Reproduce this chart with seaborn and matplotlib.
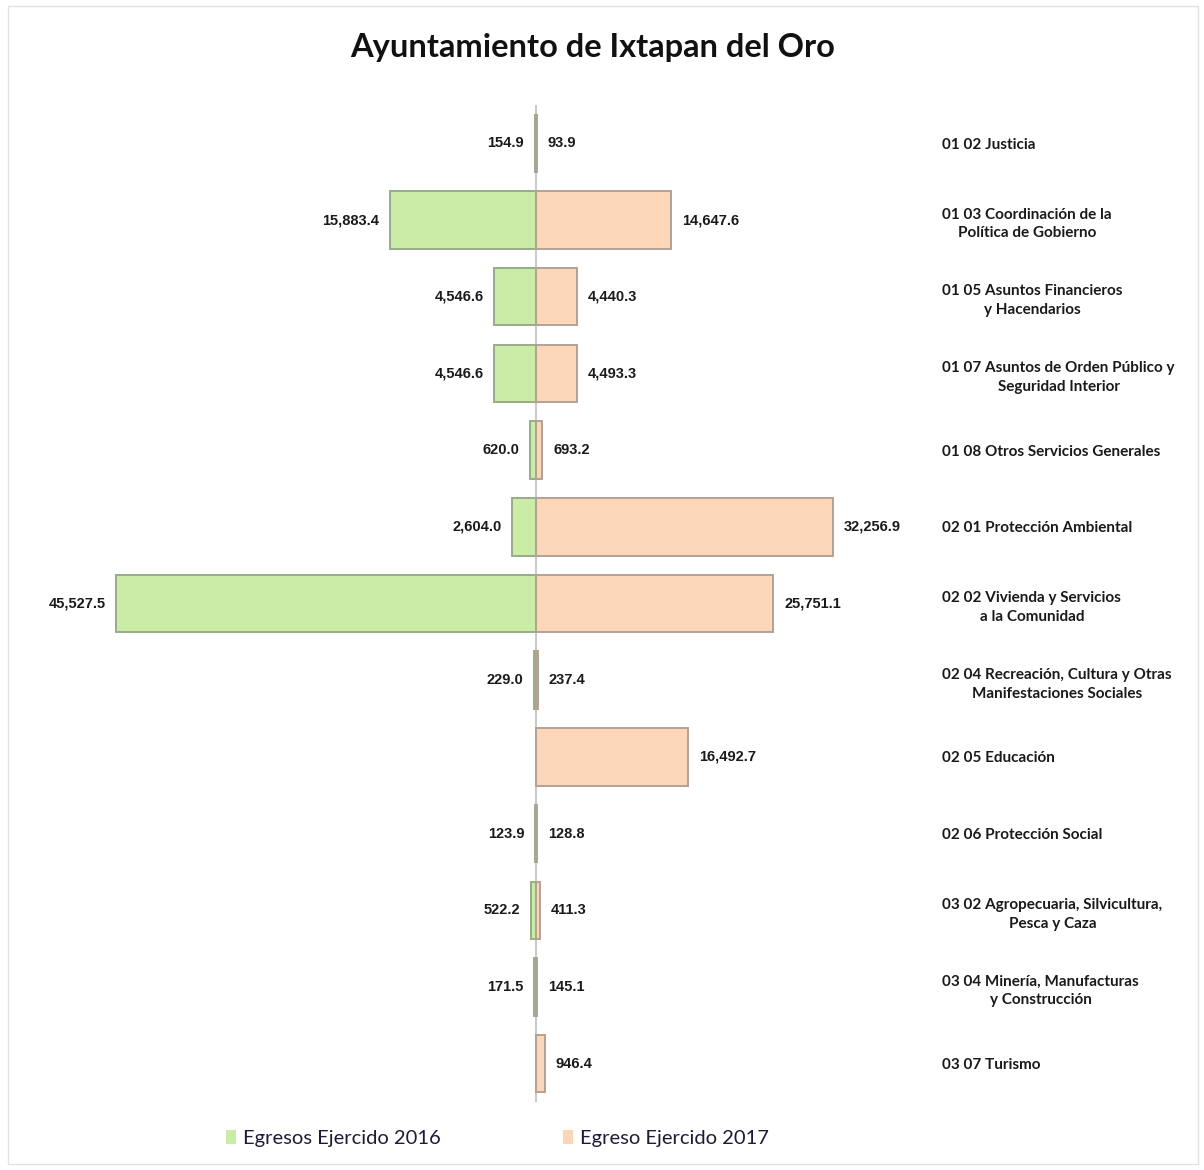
import pandas as pd
import seaborn as sns
import matplotlib.pyplot as plt
from matplotlib.patches import Rectangle

# Data (miles de pesos)
categorias = [
    "01 02 Justicia",
    "01 03 Coordinación de la\nPolítica de Gobierno",
    "01 05 Asuntos Financieros\ny Hacendarios",
    "01 07 Asuntos de Orden Público y\nSeguridad Interior",
    "01 08 Otros Servicios Generales",
    "02 01 Protección Ambiental",
    "02 02 Vivienda y Servicios\na la Comunidad",
    "02 04 Recreación, Cultura y Otras\nManifestaciones Sociales",
    "02 05 Educación",
    "02 06 Protección Social",
    "03 02 Agropecuaria, Silvicultura,\nPesca y Caza",
    "03 04 Minería, Manufacturas\ny Construcción",
    "03 07 Turismo",
]
egresos_2016 = [154.9, 15883.4, 4546.6, 4546.6, 620.0, 2604.0, 45527.5,
                229.0, None, 123.9, 522.2, 171.5, None]
egresos_2017 = [93.9, 14647.6, 4440.3, 4493.3, 693.2, 32256.9, 25751.1,
                237.4, 16492.7, 128.8, 411.3, 145.1, 946.4]
series = ["Egresos Ejercido 2016", "Egreso Ejercido 2017"]

colores = {series[0]: "#cbeca6", series[1]: "#fcd6b8"}
bordes = ["#9aab8a", "#b3a293"]

# long table: 2016 drawn to the left (negative)
filas = []
for cat, v16, v17 in zip(categorias, egresos_2016, egresos_2017):
    if v16 is not None:
        filas.append({"categoria": cat, "valor": -v16, "serie": series[0]})
    if v17 is not None:
        filas.append({"categoria": cat, "valor": v17, "serie": series[1]})
df = pd.DataFrame(filas)

sns.set_style("white")
plt.rcParams["font.family"] = ["Lato", "DejaVu Sans"]

fig = plt.figure(figsize=(12.04, 11.7), dpi=100)
ax = fig.add_axes([60 / 1204, (1170 - 1102) / 1170, 870 / 1204, 997 / 1170])

sns.barplot(data=df, x="valor", y="categoria", hue="serie", order=categorias,
            hue_order=series, palette=colores, saturation=1, dodge=False,
            orient="h", width=0.75, linewidth=1.4, ax=ax)

for cont, borde in zip(ax.containers, bordes):
    for barra in cont:
        barra.set_edgecolor(borde)

ax.axvline(0, color="#c4c4c4", lw=1.3, zorder=0)
ax.set_xlim(-51630, 42730)
ax.set_ylim(12.5, -0.5)
ax.set_xlabel("")
ax.set_ylabel("")
ax.set_xticks([])
sns.despine(ax=ax, left=True, bottom=True)

# category names on the right
ax.yaxis.tick_right()
ax.tick_params(axis="y", length=0, pad=9)
for t in ax.get_yticklabels():
    t.set_fontsize(11)
    t.set_fontweight("bold")
    t.set_multialignment("center")
    t.set_linespacing(1.45)
    t.set_color("#1a1a1a")

# value labels
fuente_val = ["Liberation Sans", "DejaVu Sans"]
off = 1150
for i, (v16, v17) in enumerate(zip(egresos_2016, egresos_2017)):
    if v16 is not None:
        ax.text(-v16 - off, i, f"{v16:,.1f}", ha="right", va="center",
                fontsize=10.5, fontweight="bold", family=fuente_val, color="#1a1a1a")
    if v17 is not None:
        ax.text(v17 + off, i, f"{v17:,.1f}", ha="left", va="center",
                fontsize=10.5, fontweight="bold", family=fuente_val, color="#1a1a1a")

fig.suptitle("Ayuntamiento de Ixtapan del Oro", x=593 / 1204, y=1 - 47 / 1170,
             va="center", fontsize=23.5, fontweight="bold", color="#111111")

sns.move_legend(ax, "center", bbox_to_anchor=(497 / 1204, 1 - 1138 / 1170),
                bbox_transform=fig.transFigure, ncol=2, frameon=False, title=None,
                fontsize=14.5, handlelength=0.6, handleheight=0.8,
                handletextpad=0.3, columnspacing=6.0)
for t in ax.get_legend().get_texts():
    t.set_color("#1c1c3a")

# faint outer frame
fig.patches.append(Rectangle((8 / 1204, 6 / 1170), 1190 / 1204, 1158 / 1170,
                             transform=fig.transFigure, fill=False,
                             edgecolor="#e2e2e2", lw=1))

fig.savefig("out.png", dpi=100)
